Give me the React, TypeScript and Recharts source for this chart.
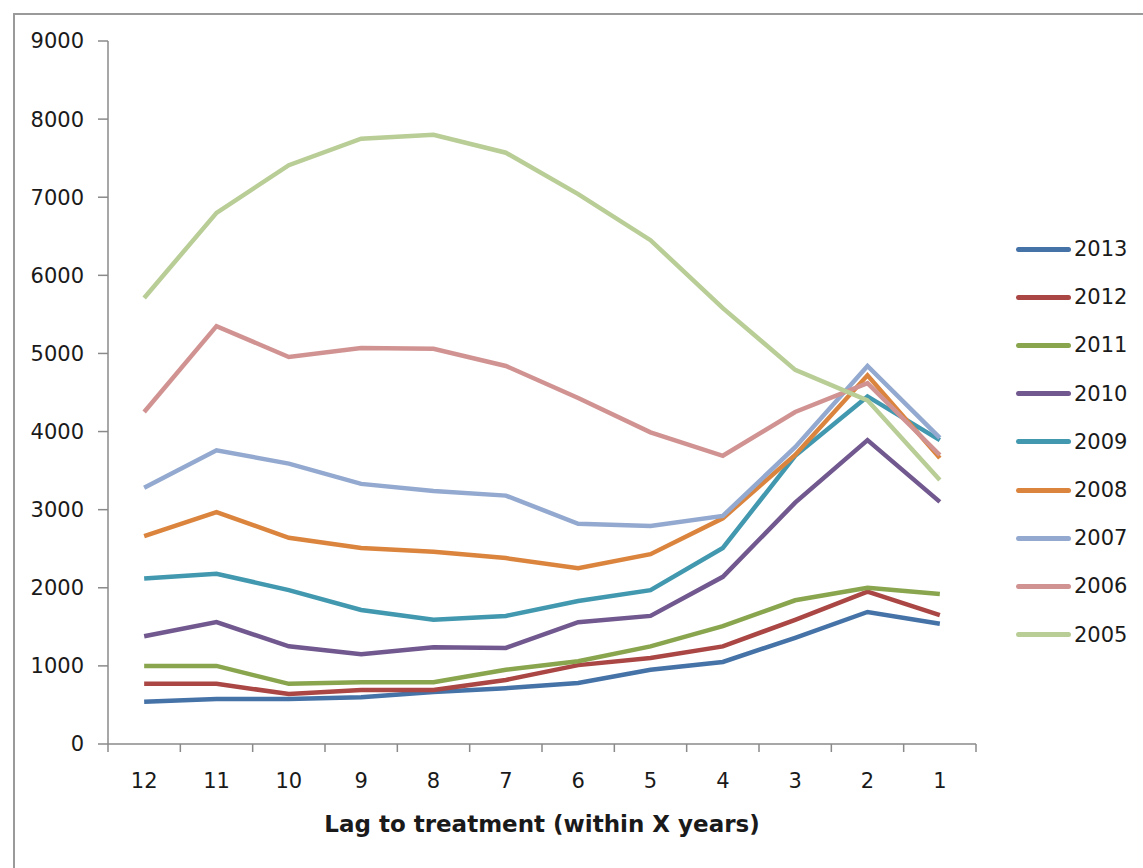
import { LineChart, Line, XAxis, YAxis, Legend } from 'recharts';

const lags = ['12', '11', '10', '9', '8', '7', '6', '5', '4', '3', '2', '1'];
const years = ['2013', '2012', '2011', '2010', '2009', '2008', '2007', '2006', '2005'];
const colors = ['#4572A7', '#AA4643', '#89A54E', '#71588F', '#4198AF', '#DB843D', '#93A9CF', '#D19392', '#B9CD96'];

const s2013 = [540, 575, 575, 600, 665, 715, 780, 950, 1050, 1360, 1690, 1540];
const s2012 = [770, 770, 640, 690, 690, 820, 1010, 1100, 1250, 1590, 1950, 1650];
const s2011 = [1000, 1000, 770, 790, 790, 950, 1060, 1250, 1510, 1840, 2000, 1920];
const s2010 = [1380, 1560, 1250, 1150, 1240, 1230, 1560, 1640, 2140, 3090, 3890, 3100];
const s2009 = [2120, 2180, 1970, 1715, 1590, 1640, 1830, 1970, 2510, 3690, 4450, 3890];
const s2008 = [2660, 2970, 2640, 2510, 2460, 2380, 2250, 2430, 2890, 3700, 4720, 3660];
const s2007 = [3280, 3760, 3590, 3330, 3240, 3180, 2820, 2790, 2920, 3800, 4840, 3920];
const s2006 = [4250, 5350, 4955, 5070, 5060, 4840, 4430, 3990, 3690, 4250, 4620, 3700];
const s2005 = [5710, 6800, 7410, 7750, 7800, 7570, 7040, 6450, 5580, 4790, 4400, 3380];

const yTicks = [0, 1000, 2000, 3000, 4000, 5000, 6000, 7000, 8000, 9000];

const seriesValues = [s2013, s2012, s2011, s2010, s2009, s2008, s2007, s2006, s2005];

const data = lags.map((lag, i) => {
  const row: { [k: string]: string | number } = { lag };
  years.forEach((y, j) => {
    row[y] = seriesValues[j][i];
  });
  return row;
});

const FONT = '"DejaVu Sans", sans-serif';
const TEXT = '#1a1a1a';
const AXIS = '#8a8a8a';
const PLOT_LEFT = 108;
const PLOT_RIGHT = 976;
const HALF_BAND = (PLOT_RIGHT - PLOT_LEFT) / lags.length / 2;

// category ticks sit between the categories, like the spreadsheet original
function XTick(props: any) {
  const { x, y, payload, index } = props;
  const axisY = y - 8;
  return (
    <g>
      <line x1={x - HALF_BAND} y1={axisY} x2={x - HALF_BAND} y2={axisY + 8} stroke={AXIS} strokeWidth={1.5} />
      {index === lags.length - 1 && (
        <line x1={x + HALF_BAND} y1={axisY} x2={x + HALF_BAND} y2={axisY + 8} stroke={AXIS} strokeWidth={1.5} />
      )}
      <text x={x} y={axisY + 44} textAnchor="middle" fontSize={21} fill={TEXT} fontFamily={FONT}>
        {payload.value}
      </text>
    </g>
  );
}

function LegendBox() {
  return (
    <div style={{ width: 130 }}>
      {years.map((y, i) => (
        <div key={y} style={{ display: 'flex', alignItems: 'center', height: 48.2 }}>
          <div style={{ width: 55, height: 5, borderRadius: 3, background: colors[i], marginRight: 3 }} />
          <span style={{ fontSize: 21, color: TEXT, fontFamily: FONT }}>{y}</span>
        </div>
      ))}
    </div>
  );
}

export default function App() {
  return (
    <div style={{ position: 'absolute', left: 0, top: 0, width: 1143, height: 868, overflow: 'hidden', background: '#fff' }}>
      <div
        style={{
          position: 'absolute',
          left: 13,
          top: 13,
          width: 1300,
          height: 1000,
          border: '2px solid #9a9a9a',
        }}
      />
      <div style={{ position: 'absolute', left: 0, top: 0 }}>
        <LineChart width={1143} height={868} data={data} margin={{ top: 41, right: 37, left: 0, bottom: 24 }}>
          <XAxis
            dataKey="lag"
            padding={{ left: HALF_BAND, right: HALF_BAND }}
            axisLine={{ stroke: AXIS, strokeWidth: 1.5 }}
            tickLine={false}
            tick={<XTick />}
            interval={0}
            height={100}
            label={{
              value: 'Lag to treatment (within X years)',
              position: 'insideBottom',
              offset: 12,
              style: { fontSize: 23, fontWeight: 'bold', fill: TEXT, fontFamily: FONT },
            }}
          />
          <YAxis
            domain={[0, 9000]}
            ticks={yTicks}
            width={108}
            interval={0}
            axisLine={{ stroke: AXIS, strokeWidth: 1.5 }}
            tickLine={{ stroke: AXIS, strokeWidth: 1.5 }}
            tickSize={10}
            tickMargin={14}
            tick={{ fontSize: 21, fill: TEXT, fontFamily: FONT }}
          />
          <Legend
            layout="vertical"
            align="right"
            verticalAlign="top"
            content={<LegendBox />}
            wrapperStyle={{ left: 1016, top: 225, width: 130 }}
          />
          {years.map((y, i) => (
            <Line
              key={y}
              dataKey={y}
              stroke={colors[i]}
              strokeWidth={4.5}
              dot={false}
              activeDot={false}
              isAnimationActive={false}
            />
          ))}
        </LineChart>
      </div>
    </div>
  );
}
